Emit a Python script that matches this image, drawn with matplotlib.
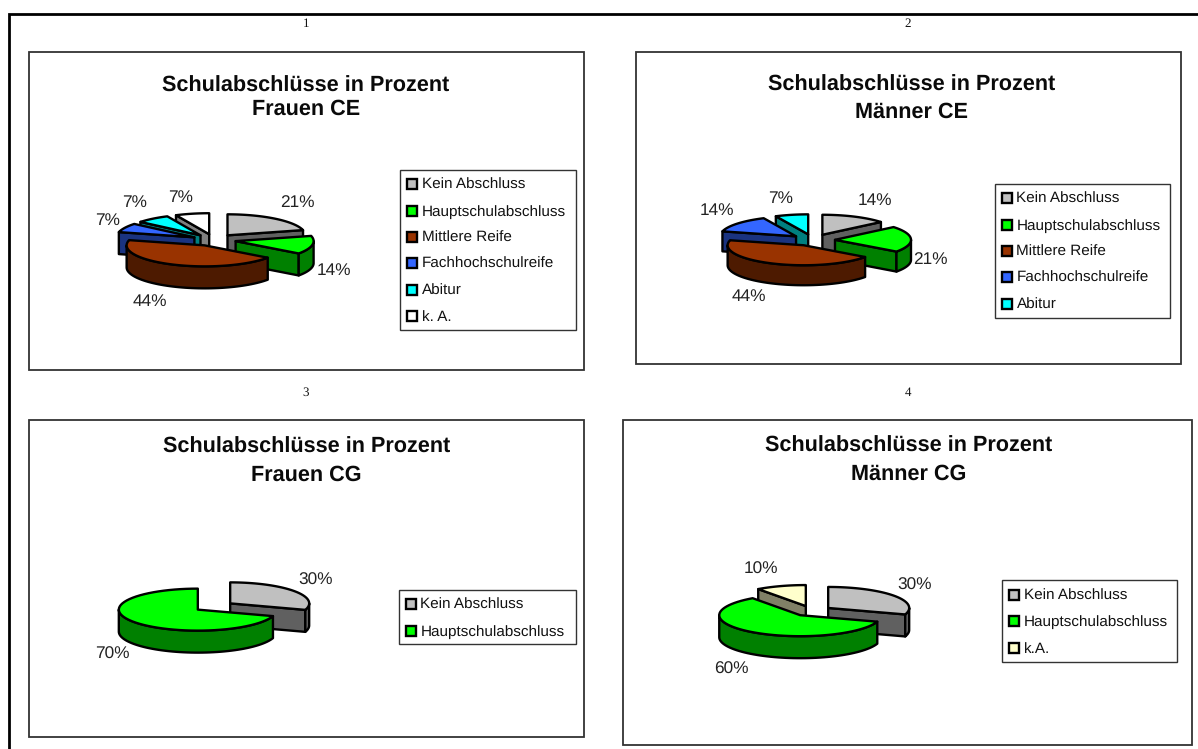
import numpy as np
import matplotlib
matplotlib.use("Agg")
import matplotlib.pyplot as plt
from matplotlib.patches import Polygon, Rectangle
from matplotlib.colors import to_rgb

plt.rcParams["text.hinting"] = "no_hinting"

W, H = 1198, 749

# School-leaving qualifications in percent, one series per group
labels_fce = ["Kein Abschluss", "Hauptschulabschluss", "Mittlere Reife", "Fachhochschulreife", "Abitur", "k. A."]
values_fce = [21, 14, 44, 7, 7, 7]
labels_mce = ["Kein Abschluss", "Hauptschulabschluss", "Mittlere Reife", "Fachhochschulreife", "Abitur"]
values_mce = [14, 21, 44, 14, 7]
labels_fcg = ["Kein Abschluss", "Hauptschulabschluss"]
values_fcg = [30, 70]
labels_mcg = ["Kein Abschluss", "Hauptschulabschluss", "k.A."]
values_mcg = [30, 60, 10]

colors_six = ["#C0C0C0", "#00FF00", "#993300", "#3366FF", "#00FFFF", "#FFFFFF"]
colors_mcg = ["#C0C0C0", "#00FF00", "#FFFFCC"]

TITLE_MAIN = "Schulabschlüsse in Prozent"

SANS = "Liberation Sans"
SERIF = "Liberation Serif"

fig = plt.figure(figsize=(W / 100, H / 100), dpi=100, facecolor="white")
ax = fig.add_axes([0, 0, 1, 1])
ax.set_xlim(0, W)
ax.set_ylim(H, 0)
ax.axis("off")


def darker(color):
    return tuple(c * 0.5 for c in to_rgb(color))


def arc(ax_x, ax_y, rx, ry, a, b, n=60):
    t = np.radians(np.linspace(a, b, n))
    return ax_x + rx * np.sin(t), ax_y - ry * np.cos(t)


def exploded_pie(values, colors, center, rx, ry, depth, explode):
    """Tilted 3D pie, clockwise from twelve o'clock, every slice pulled outward."""
    cx, cy = center
    total = sum(values)
    edges = np.concatenate([[0], np.cumsum(values)]) / total * 360
    tilt = ry / rx
    slices = []
    for i, v in enumerate(values):
        a, b = edges[i], edges[i + 1]
        mid = np.radians((a + b) / 2)
        slices.append((np.cos(mid), a, b, colors[i],
                       cx + explode * np.sin(mid),
                       cy - explode * tilt * np.cos(mid)))
    kw = dict(edgecolor="black", linewidth=1.7, joinstyle="round")
    z = 3
    # Paint from the back of the pie to the front
    for _, a, b, col, x0, y0 in sorted(slices, key=lambda s: -s[0]):
        side = darker(col)
        for ang, visible in ((a, np.sin(np.radians(a)) < -1e-6),
                             (b, np.sin(np.radians(b)) > 1e-6)):
            if visible:
                ex, ey = arc(x0, y0, rx, ry, ang, ang, 1)
                ax.add_patch(Polygon([(x0, y0), (ex[0], ey[0]), (ex[0], ey[0] + depth), (x0, y0 + depth)],
                                     facecolor=side, zorder=z, **kw))
                z += 1
        lo, hi = max(a, 90), min(b, 270)
        if hi > lo:
            ox, oy = arc(x0, y0, rx, ry, lo, hi)
            pts = list(zip(ox, oy)) + list(zip(ox[::-1], oy[::-1] + depth))
            ax.add_patch(Polygon(pts, facecolor=side, zorder=z, **kw))
            z += 1
        tx, ty = arc(x0, y0, rx, ry, a, b)
        pts = [(x0, y0)] + list(zip(tx, ty))
        ax.add_patch(Polygon(pts, facecolor=col, zorder=z, **kw))
        z += 1


def chart_panel(box, subtitle, title_x, baselines, labels, values, colors, pie, pct_xy, legend_box, legend_rows):
    x0, y0, x1, y1 = box
    ax.add_patch(Rectangle((x0, y0), x1 - x0, y1 - y0, fill=False, edgecolor="#333333", linewidth=1.3, zorder=2))
    for line, base in zip((TITLE_MAIN, subtitle), baselines):
        ax.text(title_x, base, line, family=SANS, fontsize=15.6, fontweight="bold",
                ha="center", va="baseline", zorder=5, color="#0a0a0a")
    exploded_pie(values, colors, **pie)
    for v, (px, py) in zip(values, pct_xy):
        ax.text(px, py, f"{v}%", family=SANS, fontsize=12.4, color="#222222", ha="center", va="center", zorder=60)
    lx0, ly0, lx1, ly1 = legend_box
    ax.add_patch(Rectangle((lx0, ly0), lx1 - lx0, ly1 - ly0, facecolor="white", edgecolor="#333333", linewidth=1, zorder=2))
    for lab, col, ry in zip(labels, colors, legend_rows):
        ax.add_patch(Rectangle((lx0 + 7, ry - 5), 10, 10, facecolor=col, edgecolor="black", linewidth=1.7, zorder=3))
        ax.text(lx0 + 21.5, ry + 1.2, lab, family=SANS, fontsize=11.0, color="#111111", ha="left", va="center", zorder=3)


# Page frame, open towards the right-hand margin
ax.plot([W, 9, 9], [14, 14, H], color="black", linewidth=2.0, solid_joinstyle="miter", zorder=1)

# Page numbers
for txt, x, y in (("1", 306, 24), ("2", 908, 24), ("3", 306, 393), ("4", 908, 393)):
    ax.text(x, y, txt, family=SERIF, fontsize=9.4, ha="center", va="center", color="#111111")

chart_panel((29, 52, 584, 370), "Frauen CE", 306, (91.5, 115),
            labels_fce, values_fce, colors_six,
            dict(center=(214, 240), rx=78, ry=21, depth=22, explode=22),
            [(297, 203), (334, 271), (150, 302), (108, 221), (135, 203), (181, 198)],
            (400, 170, 576, 330), [184, 211, 237, 263, 290, 316])

chart_panel((636, 52, 1181, 364), "Männer CE", 911.5, (91, 118),
            labels_mce, values_mce, colors_six,
            dict(center=(813, 240), rx=76, ry=20, depth=20, explode=22),
            [(875, 201), (930, 260), (749, 297), (717, 211), (781, 199)],
            (995, 184, 1170, 318), [198, 225, 251, 277, 304])

chart_panel((29, 420, 584, 737), "Frauen CG", 306.5, (452.5, 481),
            labels_fcg, values_fcg, colors_six,
            dict(center=(214, 606.5), rx=79, ry=21, depth=22, explode=20),
            [(316, 580), (112, 654)],
            (399, 590, 576, 644), [604, 631])

chart_panel((623, 420, 1192, 745), "Männer CG", 909, (452, 480),
            labels_mcg, values_mcg, colors_mcg,
            dict(center=(812, 611), rx=81, ry=21, depth=22, explode=20),
            [(915, 585), (731, 669), (761, 569)],
            (1002, 580, 1177, 662), [595, 621, 648])

fig.savefig("out.png", dpi=100)
